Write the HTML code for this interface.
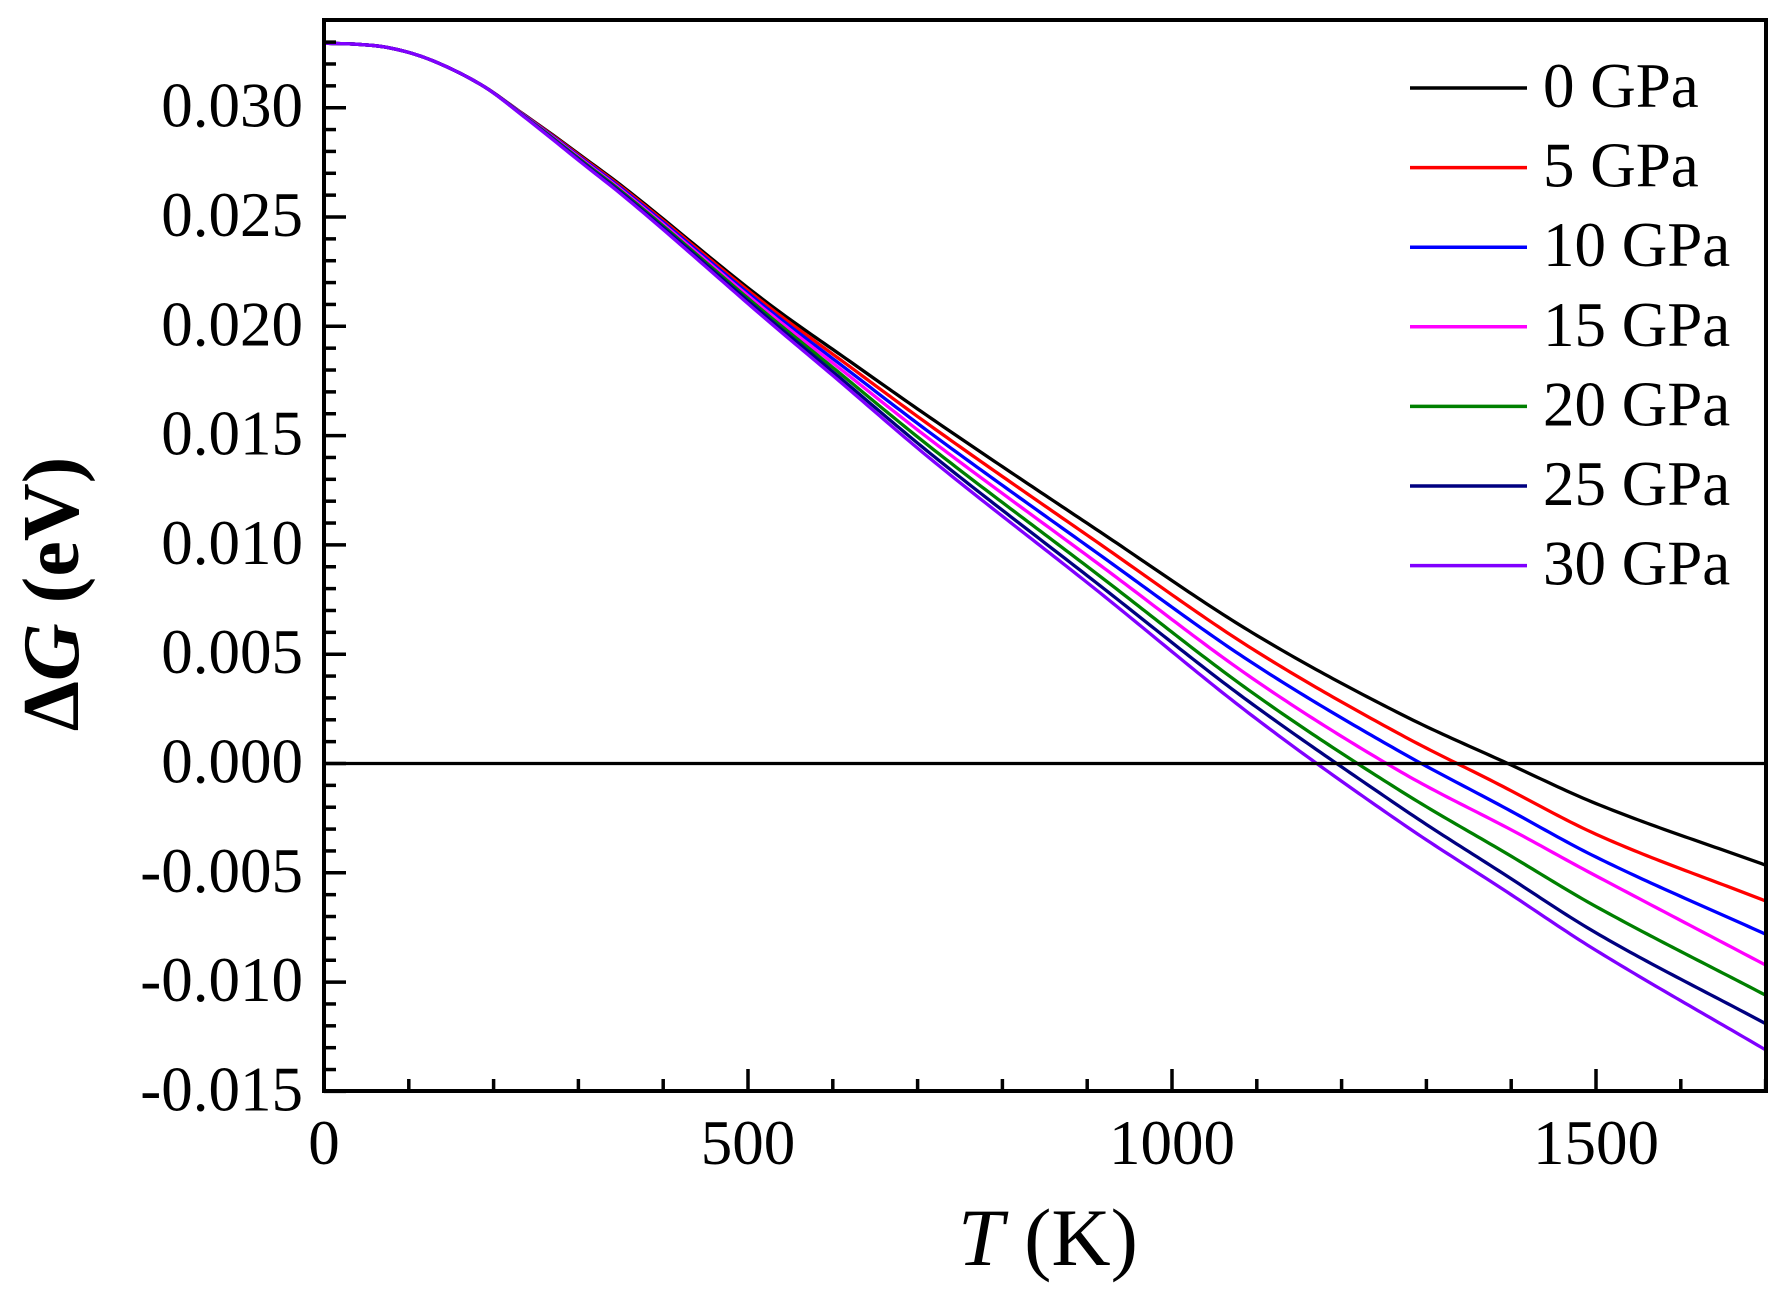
<!DOCTYPE html>
<html><head><meta charset="utf-8"><style>
html,body{margin:0;padding:0;background:#fff;}
svg{display:block;}
text{font-family:"Liberation Serif",serif;fill:#000;}
</style></head><body>
<svg id="s" width="1783" height="1294" viewBox="0 0 1783 1294" xmlns="http://www.w3.org/2000/svg">
<g id="curves" fill="none" stroke-width="3.3" stroke-linejoin="round"></g>
<line x1="324" y1="763.5" x2="1766" y2="763.5" stroke="#000" stroke-width="3.2"/>
<g id="ticks" stroke="#000" stroke-width="3.5"></g>
<rect x="324" y="20" width="1442" height="1071" fill="none" stroke="#000" stroke-width="4"/>
<g font-size="63" text-anchor="end" id="ylab"></g>
<g font-size="63" text-anchor="middle">
<text x="324" y="1164">0</text>
<text x="748" y="1164">500</text>
<text x="1172" y="1164">1000</text>
<text x="1596" y="1164">1500</text>
</g>
<text x="958" y="1265" font-size="82"><tspan font-style="italic">T</tspan> (K)</text>
<text transform="translate(78,594) rotate(-90)" text-anchor="middle" font-size="80" font-weight="bold">Δ<tspan font-style="italic">G</tspan> (eV)</text>
<g id="legend" font-size="63"></g>
</svg>
<script>
var NS="http://www.w3.org/2000/svg";
function X(T){return 324+T*0.848;}
function Y(G){return 763.5-G/0.005*109.3;}
function el(p,n,a,t){var e=document.createElementNS(NS,n);for(var k in a)e.setAttribute(k,a[k]);if(t!==undefined)e.textContent=t;p.appendChild(e);return e;}
function mono(pts){var n=pts.length,xs=pts.map(p=>p[0]),ys=pts.map(p=>p[1]),d=[],m=[];
for(var i=0;i<n-1;i++)d.push((ys[i+1]-ys[i])/(xs[i+1]-xs[i]));
m[0]=d[0];m[n-1]=d[n-2];for(i=1;i<n-1;i++){m[i]=(d[i-1]*d[i]<=0)?0:(d[i-1]+d[i])/2;}
for(i=0;i<n-1;i++){if(d[i]===0){m[i]=0;m[i+1]=0;continue;}var a=m[i]/d[i],b=m[i+1]/d[i],s=a*a+b*b;if(s>9){var t=3/Math.sqrt(s);m[i]=t*a*d[i];m[i+1]=t*b*d[i];}}
return function(x){var i=0;while(i<n-2&&x>xs[i+1])i++;var h=xs[i+1]-xs[i],t=(x-xs[i])/h,t2=t*t,t3=t2*t;
return (2*t3-3*t2+1)*ys[i]+(t3-2*t2+t)*h*m[i]+(-2*t3+3*t2)*ys[i+1]+(t3-t2)*h*m[i+1];};}
var black=mono([[0,0.03295],[40,0.0329],[74,0.03276],[113,0.03237],[153,0.03172],[192,0.03089],[231,0.02982],[270,0.02875],[310,0.02761],[345,0.02661],[522,0.0211],[620,0.0184],[719,0.01571],[915,0.0106],[1094,0.0060],[1273,0.0022],[1396,0],[1498,-0.0018],[1700,-0.00465]]);
var tail=[
null,
[[915,0.00056],[1340,0.00105],[1498,0.0014],[1700,0.00164]],
[[915,0.00106],[1294,0.0018],[1498,0.00244],[1700,0.00316]],
[[915,0.00152],[1255,0.0026],[1498,0.0033],[1700,0.00457]],
[[915,0.00203],[1222,0.0033],[1498,0.0047],[1700,0.00595]],
[[915,0.00246],[1196,0.0038],[1498,0.0059],[1700,0.00725]],
[[915,0.00279],[1173,0.0043],[1498,0.0067],[1700,0.00845]]];
var deltas=[[[0,0],[1700,0]]];
for(var k=1;k<7;k++){var f=k/6;var t0=tail[k][0][1];
deltas.push([[0,0],[180,0],[300,0.0003*f],[522,0.0008*f],[719,0.0008*f+(t0-0.0008*f)*0.55]].concat(tail[k]));}
var cols=["#000000","#ff0000","#0000ff","#ff00ff","#008000","#000080","#8000ff"];
var names=["0 GPa","5 GPa","10 GPa","15 GPa","20 GPa","25 GPa","30 GPa"];
var cg=document.getElementById("curves");
for(var k=0;k<7;k++){var df=mono(deltas[k]);var d="";
for(var T=0;T<=1700;T+=5){var G=black(T)-df(T);d+=(T?"L":"M")+X(T).toFixed(2)+" "+Y(G).toFixed(2);}
el(cg,"path",{d:d,stroke:cols[k]});}
var tg=document.getElementById("ticks");
for(var i=-15;i<=33;i++){var y=Y(i/1000);var L=(i%5===0)?22:12;el(tg,"line",{x1:324,y1:y,x2:324+L,y2:y});}
for(var T=0;T<=1700;T+=100){var x=X(T);var L=(T%500===0)?22:12;el(tg,"line",{x1:x,y1:1091,x2:x,y2:1091-L});}
var yl=document.getElementById("ylab");
for(var i=-3;i<=6;i++){var v=i*0.005;var s=(v<0?"-":"")+Math.abs(v).toFixed(3);el(yl,"text",{x:303,y:Y(v)+19},s);}
var lg=document.getElementById("legend");
for(var k=0;k<7;k++){var y=88+k*79.6;el(lg,"line",{x1:1410,y1:y,x2:1527,y2:y,stroke:cols[k],"stroke-width":3.5});
el(lg,"text",{x:1543,y:y+19},names[k]);}
</script>
</body></html>
